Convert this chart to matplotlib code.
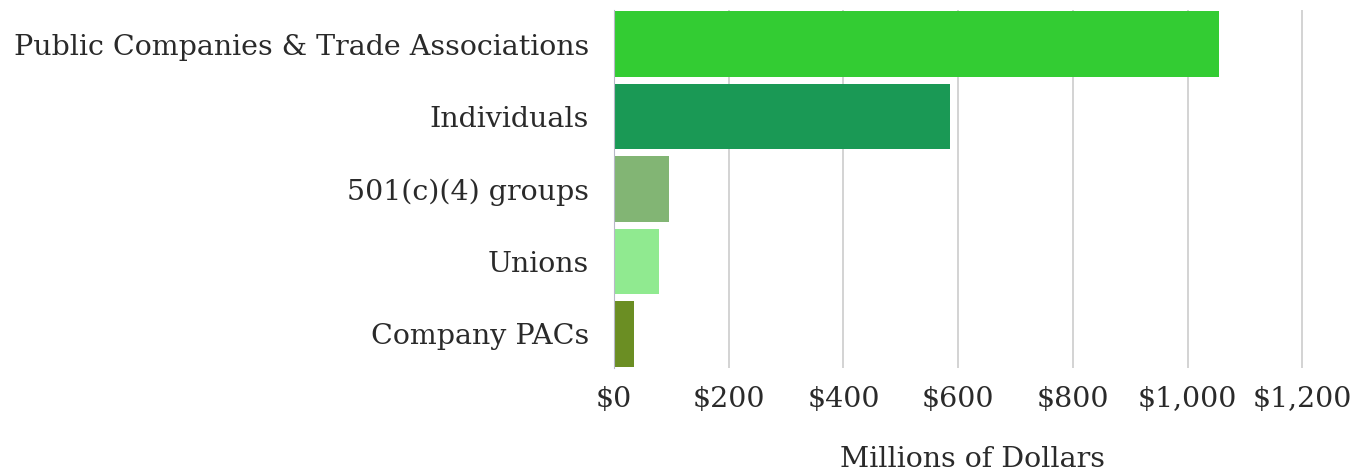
import matplotlib.pyplot as plt
from matplotlib.ticker import FuncFormatter

# data (millions of dollars)
categories = ['Public Companies & Trade Associations', 'Individuals',
              '501(c)(4) groups', 'Unions', 'Company PACs']
amounts = [1055, 585, 95, 78, 35]
bar_colors = ['#33cc33', '#1a9955', '#82b574', '#90ea90', '#6b8e23']
ticks = [0, 200, 400, 600, 800, 1000, 1200]

plt.rcParams['font.family'] = ['DejaVu Serif']

fig = plt.figure(figsize=(13.51, 4.73), dpi=100)
ax = fig.add_axes([614 / 1351, 1 - 368 / 473, (1330 - 614) / 1351, (368 - 10) / 473])

pos = list(range(len(categories)))
ax.barh(pos, amounts, height=0.9, color=bar_colors, zorder=2)
ax.set_ylim(4.47, -0.47)
ax.set_xlim(0, 1248)

ax.set_yticks(pos)
ax.set_yticklabels(categories, fontsize=20.5, color='#2a2a2a')
ax.set_xticks(ticks)
ax.xaxis.set_major_formatter(FuncFormatter(lambda v, p: f'${v:,.0f}'))
ax.tick_params(axis='x', labelsize=20.5, labelcolor='#2a2a2a', length=0, pad=13)
ax.tick_params(axis='y', length=0, pad=18)

ax.grid(axis='x', color='#d0d0d0', linewidth=1.3, zorder=0)
for s in ['top', 'right', 'bottom']:
    ax.spines[s].set_visible(False)
ax.spines['left'].set_color('#b8b8c8')
ax.spines['left'].set_zorder(3)

ax.set_xlabel('Millions of Dollars', fontsize=20.5, color='#2a2a2a', labelpad=24)

fig.savefig('out.png', dpi=100)
